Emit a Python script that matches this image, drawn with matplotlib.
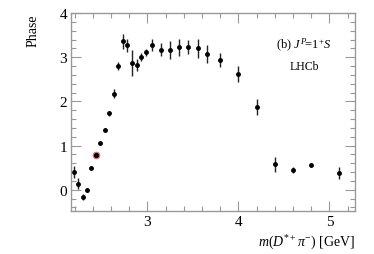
import matplotlib
matplotlib.use("Agg")
import matplotlib.pyplot as plt
from matplotlib.ticker import MultipleLocator

plt.rcParams['font.family'] = ['Liberation Serif', 'DejaVu Serif']
plt.rcParams['mathtext.fontset'] = 'custom'
plt.rcParams['mathtext.rm'] = 'Liberation Serif'
plt.rcParams['mathtext.it'] = 'Liberation Serif:italic'

mass = [2.19, 2.24, 2.29, 2.33, 2.38, 2.43, 2.48, 2.53, 2.58, 2.63, 2.68, 2.73,
        2.78, 2.83, 2.88, 2.93, 2.98, 3.05, 3.15, 3.25, 3.35, 3.45, 3.55, 3.65,
        3.80, 4.00, 4.20, 4.40, 4.60, 4.80, 5.10]
phase = [0.40, 0.14, -0.16, -0.01, 0.50, 0.79, 1.05, 1.36, 1.73, 2.17, 2.81, 3.36,
         3.27, 2.87, 2.82, 3.00, 3.11, 3.27, 3.17, 3.17, 3.22, 3.23, 3.20, 3.07,
         2.93, 2.62, 1.88, 0.58, 0.45, 0.57, 0.38]
err = [0.14, 0.13, 0.06, 0.05, 0.03, 0.0, 0.03, 0.03, 0.06, 0.10, 0.09, 0.17,
       0.15, 0.29, 0.14, 0.09, 0.08, 0.14, 0.15, 0.20, 0.20, 0.15, 0.22, 0.21,
       0.16, 0.19, 0.18, 0.17, 0.07, 0.04, 0.13]
fixed_index = 5

fig = plt.figure(figsize=(3.74, 2.55), dpi=100)
ax = fig.add_axes([0.19, 0.1686, 0.759, 0.7764])

ax.errorbar(mass, phase, yerr=err, fmt='o', color='black', ms=2.5,
            ecolor='#222222', elinewidth=1.0, capsize=0)
ax.plot([mass[fixed_index]], [phase[fixed_index]], 'o', ms=4.5,
        mfc='black', mec='#e07070', mew=1.0)

ax.set_xlim(2.16, 5.28)
ax.set_ylim(-0.48, 4.0)
ax.xaxis.set_major_locator(MultipleLocator(1))
ax.xaxis.set_minor_locator(MultipleLocator(0.2))
ax.yaxis.set_major_locator(MultipleLocator(1))
ax.yaxis.set_minor_locator(MultipleLocator(0.2))
ax.tick_params(which='both', direction='in', top=True, right=True,
               color='#999999', labelsize=11, pad=3)
ax.tick_params(which='major', length=7, width=0.8)
ax.tick_params(which='minor', length=3.5, width=0.8)
for s in ax.spines.values():
    s.set_color('#999999')
    s.set_linewidth(1.0)

ax.set_xlabel(r'$m(D^{*+}\pi^{-})$ [GeV]', fontsize=10, loc='right', labelpad=3)
ax.set_ylabel('Phase', fontsize=10, loc='top', labelpad=14)

ax.text(0.918, 0.84, r'(b) $J^P\!$=1$^+\!S$', transform=ax.transAxes,
        ha='right', va='center', fontsize=9)
ax.text(0.875, 0.732, 'LHCb', transform=ax.transAxes,
        ha='right', va='center', fontsize=8.5)

fig.savefig('out.png', dpi=100)
